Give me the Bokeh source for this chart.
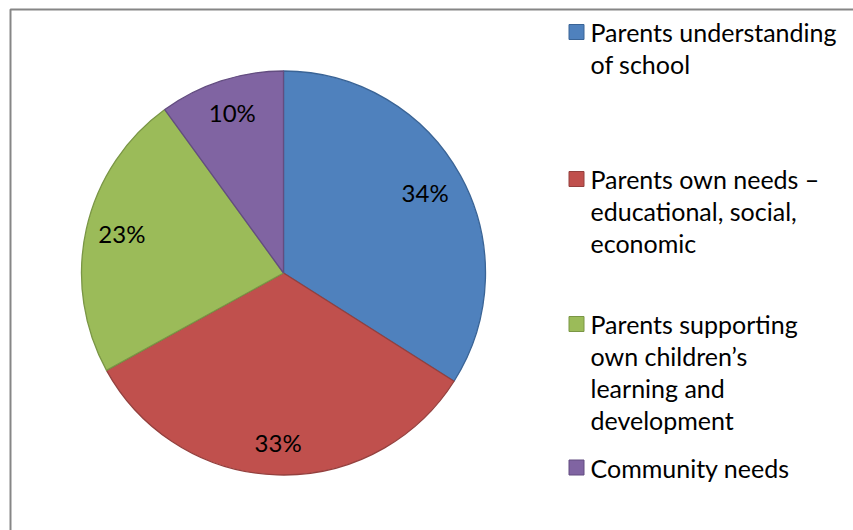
from math import pi, sin, cos
from bokeh.plotting import figure
from bokeh.models import Range1d
from bokeh.core.properties import value
from bokeh.embed import file_html
from bokeh.resources import INLINE

# ---- data ----
categories = [
    "Parents understanding of school",
    "Parents own needs – educational, social, economic",
    "Parents supporting own children’s learning and development",
    "Community needs",
]
legend_lines = [
    ["Parents understanding", "of school"],
    ["Parents own needs –", "educational, social,", "economic"],
    ["Parents supporting", "own children’s", "learning and", "development"],
    ["Community needs"],
]
shares = [34, 33, 23, 10]
pct_labels = ["34%", "33%", "23%", "10%"]

# ---- style ----
fills = ["#4F81BD", "#C0504D", "#9BBB59", "#8064A2"]
edges = ["#3A6496", "#94403E", "#7A9645", "#634D80"]
label_r = [0.80, 0.855, 0.82, 0.82]

W, H = 853, 530
CX, CY, R = 283, 272.5, 202
FONT = "Lato"
FS = "25px"
PCT_FS = "24px"

def sy(y):  # screen y (from top) -> data y
    return H - y

p = figure(width=W, height=H, output_backend="svg", toolbar_location=None,
           x_range=Range1d(0, W), y_range=Range1d(0, H),
           x_axis_type=None, y_axis_type=None, min_border=0)
p.grid.visible = False
p.outline_line_color = None
p.background_fill_color = "white"
p.border_fill_color = "white"

# chart frame (top & left edges visible)
p.line([10, 10, W + 5], [sy(H + 5), sy(9), sy(9)], line_color="#868686", line_width=2)

total = sum(shares)
starts, ends, lx, ly = [], [], [], []
cum = 0.0
for i, s in enumerate(shares):
    a0 = pi / 2 - 2 * pi * cum / total
    a1 = pi / 2 - 2 * pi * (cum + s) / total
    starts.append(a0)
    ends.append(a1)
    mid = (a0 + a1) / 2
    lx.append(CX + R * label_r[i] * cos(mid))
    ly.append(sy(CY) + R * label_r[i] * sin(mid) + 3)
    cum += s

p.wedge(x=CX, y=sy(CY), radius=R, radius_units="screen",
        start_angle=starts, end_angle=ends, direction="clock",
        fill_color=fills, line_color=edges, line_width=1.3)

p.text(x=lx, y=ly, text=pct_labels, text_font=value(FONT), text_font_size=PCT_FS,
       text_align="center", text_baseline="middle", text_color="black")

# legend
first_baselines = [39.5, 186.5, 331.5, 475]
line_step = 32
sq_x, sq_size, txt_x = 576, 15, 590
text_shift = 8
tx, ty, tt = [], [], []
for i, lines in enumerate(legend_lines):
    b = first_baselines[i]
    p.rect(x=sq_x, y=sy(b - 8), width=sq_size, height=sq_size,
           width_units="screen", height_units="screen",
           fill_color=fills[i], line_color=edges[i], line_width=1)
    for j, ln in enumerate(lines):
        tx.append(txt_x)
        ty.append(sy(b - text_shift + j * line_step))
        tt.append(ln)
p.text(x=tx, y=ty, text=tt, text_font=value(FONT), text_font_size=FS,
       text_align="left", text_baseline="alphabetic", text_color="black")

open("out.html", "w").write(file_html(p, INLINE))
